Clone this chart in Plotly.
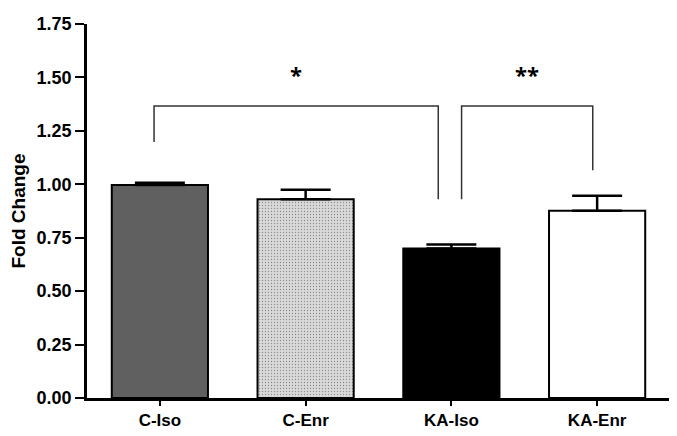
import plotly.graph_objects as go

groups = ["C-Iso", "C-Enr", "KA-Iso", "KA-Enr"]
fold_change = [0.997, 0.93, 0.70, 0.876]
sem = [0.010, 0.045, 0.018, 0.070]
bar_colors = ["#606060", "#d9d9d9", "#000000", "#ffffff"]

y_ticks = [0.0, 0.25, 0.5, 0.75, 1.0, 1.25, 1.5, 1.75]

# significance brackets: (left x, right x, top y, left leg bottom, right leg bottom, label)
brackets = [
    (-0.04, 1.91, 1.366, 1.198, 0.93, "*"),
    (2.07, 2.97, 1.366, 0.93, 1.066, "**"),
]

font_family = "Liberation Sans, Arial"

fig = go.Figure()

fig.add_trace(
    go.Bar(
        x=groups,
        y=fold_change,
        width=0.66,
        marker=dict(
            color=bar_colors,
            line=dict(color="black", width=2),
            pattern=dict(
                shape=["", ".", "", ""],
                fgcolor="#cacaca",
                bgcolor="#dadada",
                size=3,
                solidity=0.15,
            ),
        ),
        error_y=dict(
            type="data",
            symmetric=False,
            array=sem,
            arrayminus=[0] * len(sem),
            color="black",
            thickness=2.5,
            width=25,
        ),
        showlegend=False,
    )
)

for x0, x1, top, bl, br, label in brackets:
    fig.add_shape(
        type="path",
        path=f"M {x0},{bl} L {x0},{top} L {x1},{top} L {x1},{br}",
        line=dict(color="#333333", width=1.5),
        xref="x",
        yref="y",
    )
    fig.add_annotation(
        x=(x0 + x1) / 2,
        y=top + 0.15,
        text=f"<b>{label}</b>",
        showarrow=False,
        font=dict(size=22, color="black"),
        xref="x",
        yref="y",
    )

fig.update_xaxes(
    range=[-0.5, 3.5],
    showline=True,
    linecolor="black",
    linewidth=2.5,
    ticks="outside",
    ticklen=5,
    tickwidth=2,
    tickcolor="black",
    tickfont=dict(family=font_family, size=17, color="black", weight="bold"),
    showgrid=False,
    zeroline=False,
)

fig.update_yaxes(
    range=[0, 1.75],
    tickvals=y_ticks,
    tickformat=".2f",
    ticklabeloverflow="allow",
    showline=True,
    linecolor="black",
    linewidth=2.5,
    ticks="outside",
    ticklen=9,
    tickwidth=2,
    tickcolor="black",
    tickfont=dict(family=font_family, size=18, color="black", weight="bold"),
    title=dict(
        text="Fold Change",
        font=dict(family=font_family, size=19, color="black", weight="bold"),
        standoff=9,
    ),
    showgrid=False,
    zeroline=False,
)

# the page body keeps its default 8px margin, so the figure is 8px smaller
fig.update_layout(
    width=669,
    height=428,
    margin=dict(l=78, r=7, t=6, b=35),
    paper_bgcolor="white",
    plot_bgcolor="white",
)

fig.write_html("out.html")
